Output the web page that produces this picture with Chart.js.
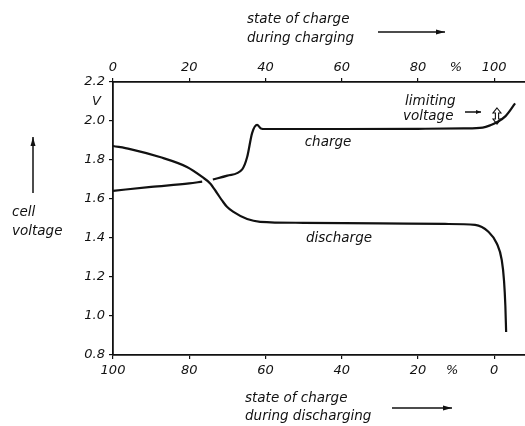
<!DOCTYPE html>
<html>
<head>
<meta charset="utf-8">
<script src="https://cdn.jsdelivr.net/npm/chart.js@4"></script>
<style>
html,body{margin:0;padding:0;background:#fff;}
canvas{display:block;}
</style>
</head>
<body>
<canvas id="c" width="525" height="426"></canvas>
<script>
// Charge curve: state of charge during charging (%) -> cell voltage (V)
const chargeSoc = [0, 10, 20, 23.4, 24.8, 26.2, 30, 33.9, 35.2, 36.5, 37.8, 38.8, 40, 60, 80, 92, 97, 99, 100.8, 103, 105.5];
const chargeV   = [1.642, 1.662, 1.680, 1.689, null, 1.700, 1.720, 1.752, 1.815, 1.938, 1.980, 1.962, 1.959, 1.959, 1.960, 1.962, 1.966, 1.978, 1.995, 2.025, 2.090];
// Discharge curve: state of charge during discharging (%) -> cell voltage (V)
const dischargeSoc = [100, 95.5, 87.7, 80.6, 76.6, 74.5, 72.7, 71.3, 70.1, 68.5, 64.8, 61.4, 50, 30, 12.9, 5.0, 1.5, -0.7, -2.0, -2.6, -2.95, -3.15];
const dischargeV   = [1.872, 1.856, 1.815, 1.764, 1.713, 1.680, 1.630, 1.590, 1.560, 1.535, 1.497, 1.483, 1.478, 1.475, 1.472, 1.467, 1.432, 1.372, 1.287, 1.180, 1.050, 0.918];
// Tick labels
const topTicks = [0, 20, 40, 60, 80, 100];
const bottomTicks = [100, 80, 60, 40, 20, 0];
const voltTicks = [0.8, 1.0, 1.2, 1.4, 1.6, 1.8, 2.0, 2.2];
const topPercentAt = 90;
const bottomPercentAt = 11;
const voltUnitAt = 2.1;

const FONT = 'DejaVu Sans';
const INK = '#111';

function toPoints(xs, ys) { return xs.map((x, i) => ({x: x, y: ys[i]})); }

const deco = {
  id: 'deco',
  afterDraw(chart) {
    const c = chart.ctx;
    c.save();
    c.fillStyle = INK; c.strokeStyle = INK;
    c.font = 'italic 13.5px "' + FONT + '"';
    c.textBaseline = 'middle'; c.textAlign = 'left';
    c.fillText('state of charge', 247, 19);
    c.fillText('during charging', 247, 38);
    c.fillText('state of charge', 245, 398);
    c.fillText('during discharging', 245, 416);
    c.fillText('cell', 12, 212);
    c.fillText('voltage', 12, 231);
    c.fillText('limiting', 405, 101);
    c.fillText('voltage', 403, 116);
    c.textAlign = 'center';
    c.fillText('charge', 328, 142);
    c.fillText('discharge', 339, 238);
    function arrow(x1, y1, x2, y2, hl, hw) {
      c.lineWidth = 1.5;
      c.beginPath(); c.moveTo(x1, y1); c.lineTo(x2, y2); c.stroke();
      const a = Math.atan2(y2 - y1, x2 - x1);
      c.beginPath();
      c.moveTo(x2, y2);
      c.lineTo(x2 - hl * Math.cos(a) + hw * Math.sin(a), y2 - hl * Math.sin(a) - hw * Math.cos(a));
      c.lineTo(x2 - hl * Math.cos(a) - hw * Math.sin(a), y2 - hl * Math.sin(a) + hw * Math.cos(a));
      c.closePath(); c.fill();
    }
    arrow(378, 32, 445, 32, 9, 2.5);
    arrow(392, 408, 452, 408, 9, 2.5);
    arrow(33, 193, 33, 137, 9, 2.5);
    arrow(465, 112, 481, 112, 5, 2);
    // hollow double-headed arrow
    c.lineWidth = 1.1;
    c.beginPath();
    const x = 497;
    c.moveTo(x, 108); c.lineTo(x + 4, 113); c.lineTo(x + 1.6, 113); c.lineTo(x + 1.6, 119);
    c.lineTo(x + 4, 119); c.lineTo(x, 124); c.lineTo(x - 4, 119); c.lineTo(x - 1.6, 119);
    c.lineTo(x - 1.6, 113); c.lineTo(x - 4, 113); c.closePath();
    c.stroke();
    c.restore();
  }
};

function tickFont() { return {family: FONT, size: 13, style: 'italic'}; }

new Chart(document.getElementById('c'), {
  type: 'line',
  data: {
    datasets: [
      {
        label: 'charge',
        data: toPoints(chargeSoc, chargeV),
        xAxisID: 'xTop', yAxisID: 'y',
        borderColor: INK, borderWidth: 2.2, pointRadius: 0,
        tension: 0.4, cubicInterpolationMode: 'monotone', spanGaps: false, fill: false
      },
      {
        label: 'discharge',
        data: toPoints(dischargeSoc, dischargeV),
        xAxisID: 'xBot', yAxisID: 'y',
        borderColor: INK, borderWidth: 2.2, pointRadius: 0,
        tension: 0.4, cubicInterpolationMode: 'monotone', fill: false
      }
    ]
  },
  options: {
    responsive: false,
    animation: false,
    devicePixelRatio: 1,
    layout: {padding: 0},
    plugins: {legend: {display: false}, tooltip: {enabled: false}},
    scales: {
      xTop: {
        type: 'linear', position: 'top', min: 0, max: 108.1,
        afterFit(s) { s.height = 82; },
        afterBuildTicks(s) { s.ticks = topTicks.concat([topPercentAt]).map(v => ({value: v})); },
        ticks: {
          color: INK, font: tickFont(), padding: 3, maxRotation: 0, autoSkip: false,
          callback: v => (v === topPercentAt ? '%' : String(v))
        },
        grid: {
          drawOnChartArea: false, tickLength: 4, lineWidth: 1.2,
          color: ctx => (ctx.tick && ctx.tick.value === topPercentAt ? 'rgba(0,0,0,0)' : INK)
        },
        border: {display: true, color: INK, width: 1.8}
      },
      xBot: {
        type: 'linear', position: 'bottom', min: -8.1, max: 100, reverse: true,
        afterFit(s) { s.height = 71; },
        afterBuildTicks(s) { s.ticks = bottomTicks.concat([bottomPercentAt]).map(v => ({value: v})); },
        ticks: {
          color: INK, font: tickFont(), padding: 4, maxRotation: 0, autoSkip: false,
          callback: v => (v === bottomPercentAt ? '%' : String(v))
        },
        grid: {
          drawOnChartArea: false, tickLength: 4, lineWidth: 1.2,
          color: ctx => (ctx.tick && ctx.tick.value === bottomPercentAt ? 'rgba(0,0,0,0)' : INK)
        },
        border: {display: true, color: INK, width: 1.8}
      },
      y: {
        type: 'linear', position: 'left', min: 0.8, max: 2.2,
        afterFit(s) { s.width = 113; },
        afterBuildTicks(s) { s.ticks = voltTicks.concat([voltUnitAt]).map(v => ({value: v})); },
        ticks: {
          color: INK, font: tickFont(), padding: 4, autoSkip: false,
          callback: v => (Math.abs(v - voltUnitAt) < 1e-9 ? 'V ' : v.toFixed(1))
        },
        grid: {
          drawOnChartArea: false, tickLength: 4, lineWidth: 1.2,
          color: ctx => (ctx.tick && Math.abs(ctx.tick.value - voltUnitAt) < 1e-9 ? 'rgba(0,0,0,0)' : INK)
        },
        border: {display: true, color: INK, width: 1.8}
      }
    }
  },
  plugins: [deco]
});
</script>
</body>
</html>
